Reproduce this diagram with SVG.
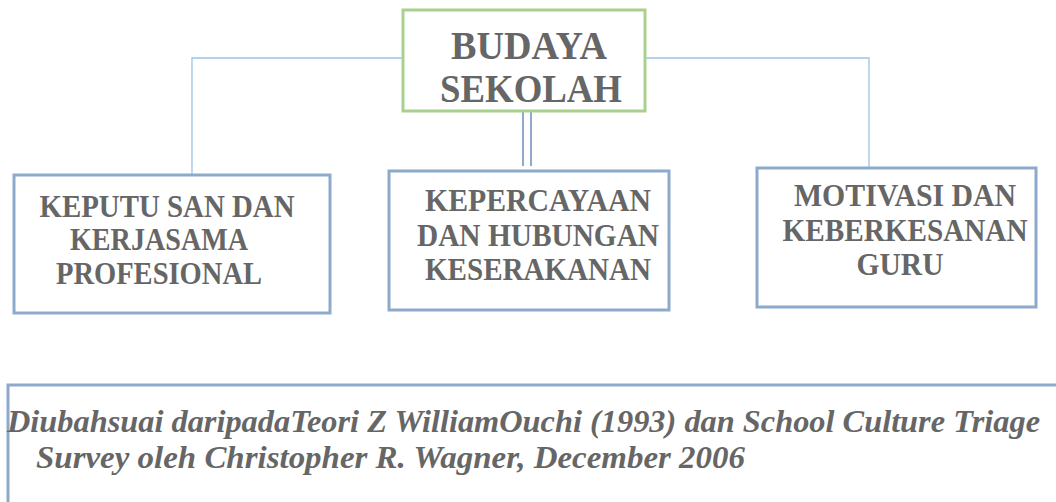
<svg xmlns="http://www.w3.org/2000/svg" width="1056" height="502" viewBox="0 0 1056 502">
<style>
.box{fill:#fff;stroke:#8eaacb;stroke-width:3}
.top{fill:#fff;stroke:#a9d08e;stroke-width:3}
.t{font-family:"Liberation Serif","Times New Roman",serif;font-weight:bold;fill:#666;text-anchor:middle}
.cap{font-family:"Liberation Serif","Times New Roman",serif;font-weight:bold;font-style:italic;fill:#666}
.con{stroke:#9dc3e6;stroke-width:1.3;fill:none}
.dbl{stroke:#8eaacb;stroke-width:2;fill:none}
</style>
<rect width="1056" height="502" fill="#fff"/>
<g id="connectors">
<polyline class="con" points="403,58 192,58 192,174"/>
<polyline class="con" points="645,58 869,58 869,168"/>
<line class="dbl" x1="523" y1="112" x2="523" y2="166"/>
<line class="dbl" x1="531" y1="112" x2="531" y2="166"/>
</g>
<g id="budaya">
<rect class="top" x="403" y="10" width="242" height="101"/>
<text class="t" font-size="41" x="529" y="59" textLength="156" lengthAdjust="spacingAndGlyphs">BUDAYA</text>
<text class="t" font-size="41" x="531" y="102" textLength="182" lengthAdjust="spacingAndGlyphs">SEKOLAH</text>
</g>
<g id="keputusan">
<rect class="box" x="14" y="175" width="316" height="138"/>
<text class="t" font-size="31" x="167" y="217" textLength="255" lengthAdjust="spacingAndGlyphs">KEPUTU SAN DAN</text>
<text class="t" font-size="31" x="159" y="250" textLength="178" lengthAdjust="spacingAndGlyphs">KERJASAMA</text>
<text class="t" font-size="31" x="159" y="284" textLength="206" lengthAdjust="spacingAndGlyphs">PROFESIONAL</text>
</g>
<g id="kepercayaan">
<rect class="box" x="389" y="171" width="280" height="139"/>
<text class="t" font-size="31" x="538" y="211" textLength="226" lengthAdjust="spacingAndGlyphs">KEPERCAYAAN</text>
<text class="t" font-size="31" x="538" y="246" textLength="242" lengthAdjust="spacingAndGlyphs">DAN HUBUNGAN</text>
<text class="t" font-size="31" x="538" y="280" textLength="226" lengthAdjust="spacingAndGlyphs">KESERAKANAN</text>
</g>
<g id="motivasi">
<rect class="box" x="757" y="168" width="279" height="139"/>
<text class="t" font-size="31" x="905" y="206" textLength="222" lengthAdjust="spacingAndGlyphs">MOTIVASI DAN</text>
<text class="t" font-size="31" x="905" y="241" textLength="245" lengthAdjust="spacingAndGlyphs">KEBERKESANAN</text>
<text class="t" font-size="31" x="900" y="275" textLength="87" lengthAdjust="spacingAndGlyphs">GURU</text>
</g>
<g id="caption">
<polyline class="box" fill="none" points="8,510 8,385 1060,385"/>
<text class="cap" font-size="32" x="7" y="432" textLength="1033" lengthAdjust="spacingAndGlyphs">Diubahsuai daripadaTeori Z WilliamOuchi (1993) dan School Culture Triage</text>
<text class="cap" font-size="32" x="36" y="468" textLength="709" lengthAdjust="spacingAndGlyphs">Survey oleh Christopher R. Wagner, December 2006</text>
</g>
</svg>
